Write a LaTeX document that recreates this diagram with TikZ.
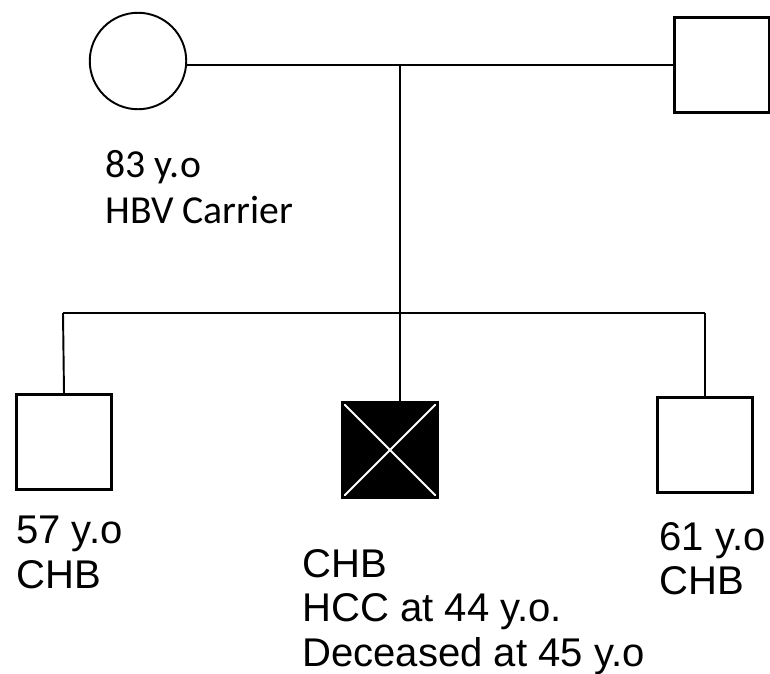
\documentclass[tikz,border=0pt]{standalone}
\usepackage{fontspec}
\setmainfont{Liberation Sans}
\newfontfamily\calfont{Carlito}
\usetikzlibrary{positioning}

\begin{document}
\begin{tikzpicture}[
  x=0.02cm, y=-0.02cm,
  male/.style={rectangle, draw, line width=1.3pt, minimum size=1.9cm, inner sep=0pt},
  female/.style={circle, draw, line width=1.1pt, minimum size=1.93cm, inner sep=0pt},
  deceased/.style={male, fill=black,
                   path picture={\draw[white, line width=1.1pt]
                     (path picture bounding box.north west) -- (path picture bounding box.south east)
                     (path picture bounding box.north east) -- (path picture bounding box.south west);}},
  link/.style={line width=1.1pt},
  info/.style={anchor=north west, inner sep=0pt, align=left,
               font=\fontsize{22.8}{25.3}\selectfont},
  infoc/.style={info, font=\calfont\fontsize{22.6}{26.3}\selectfont}
]
\useasboundingbox (0,0) rectangle (770,673);
% Parents
\node[female] (mother) at (138,61) {};
\node[male]   (father) at (722,65) {};
\coordinate (mid) at (400,65);
% Children
\node[male]     (child1) at (64,442)  {};
\node[deceased] (child2) at (390,450) {};
\node[male]     (child3) at (705,445) {};
\coordinate (sibL) at (63,313);
\coordinate (sibR) at (705,313);

% Lines
\draw[link] (mother.east |- mid) -- (father.west);
\draw[link] (mid) -- (mid |- child2.north);
\draw[link] (sibL) -- (sibR);
\draw[link] (sibL) -- (child1.north);
\draw[link] (sibR) -- (child3.north);

% Labels
\node[infoc] (lblmother) at (105,150) {83 y.o\\HBV Carrier};
\node[info]  (lbl1) at (16,516)  {57 y.o\\CHB};
\node[info]  (lbl2) at (302,549) {CHB\\HCC at 44 y.o.\\Deceased at 45 y.o};
\node[info]  (lbl3) at (659,522) {61 y.o\\CHB};
\end{tikzpicture}
\end{document}
